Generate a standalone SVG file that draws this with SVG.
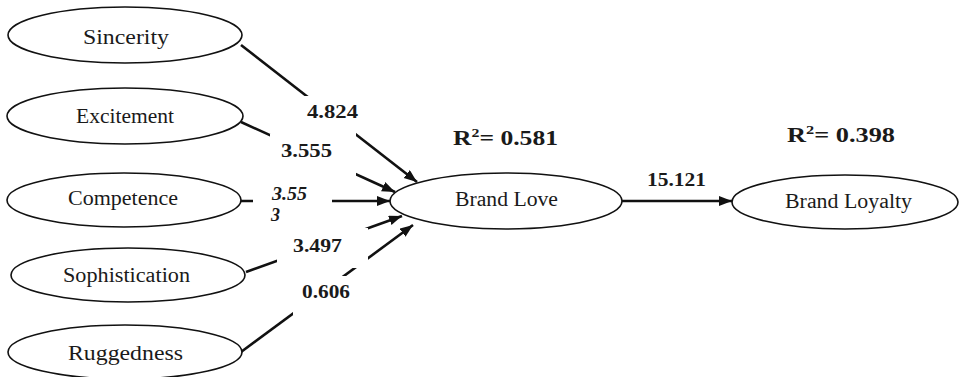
<svg xmlns="http://www.w3.org/2000/svg" width="959" height="377" viewBox="0 0 959 377">
<style>
.node ellipse{fill:#fff;stroke:#111;stroke-width:1.6}
.node text{font-family:"Liberation Serif","Times New Roman",serif;font-size:20px;fill:#1a1a1a}
.conn line{stroke:#111;stroke-width:2.6}
.bg{fill:#fff}
.lbl{font-family:"Liberation Serif","Times New Roman",serif;font-size:18px;font-weight:bold;fill:#1a1a1a}
.it{font-style:italic}
.r2{font-size:21px}
</style>
<defs>
<marker id="arr" markerUnits="userSpaceOnUse" markerWidth="14" markerHeight="11" refX="13" refY="5" orient="auto">
<path d="M0,0 L13,5 L0,10 z" fill="#111"/>
</marker>
</defs>
<rect width="959" height="377" fill="#fff"/>
<g id="connectors" class="conn">
<line x1="241" y1="45" x2="417" y2="182" marker-end="url(#arr)"/>
<line x1="241" y1="122" x2="395" y2="192" marker-end="url(#arr)"/>
<line x1="241" y1="201" x2="390" y2="201" marker-end="url(#arr)"/>
<line x1="246" y1="272" x2="402" y2="216" marker-end="url(#arr)"/>
<line x1="241" y1="352" x2="413" y2="225" marker-end="url(#arr)"/>
<line x1="622" y1="201" x2="732" y2="201" marker-end="url(#arr)"/>
</g>
<g id="labels">
<rect class="bg" x="300" y="96" width="56" height="39"/>
<rect class="bg" x="270" y="134" width="86" height="42"/>
<rect class="bg" x="253" y="180" width="79" height="44"/>
<rect class="bg" x="277" y="228" width="91" height="40"/>
<rect class="bg" x="293" y="276" width="60" height="39"/>
<text class="lbl" x="307" y="118" textLength="51" lengthAdjust="spacingAndGlyphs">4.824</text>
<text class="lbl" x="281" y="157" textLength="51" lengthAdjust="spacingAndGlyphs">3.555</text>
<text class="lbl it" x="272" y="200" textLength="35" lengthAdjust="spacingAndGlyphs">3.55</text>
<text class="lbl it" x="271" y="221">3</text>
<text class="lbl" x="293" y="252" textLength="49" lengthAdjust="spacingAndGlyphs">3.497</text>
<text class="lbl" x="302" y="298" textLength="48" lengthAdjust="spacingAndGlyphs">0.606</text>
<text class="lbl" x="647" y="186" textLength="59" lengthAdjust="spacingAndGlyphs">15.121</text>
<text class="lbl r2" x="453" y="145" textLength="105" lengthAdjust="spacingAndGlyphs">R<tspan font-size="13" dy="-8">2</tspan><tspan dy="8">= 0.581</tspan></text>
<text class="lbl r2" x="787" y="142" textLength="108" lengthAdjust="spacingAndGlyphs">R<tspan font-size="13" dy="-8">2</tspan><tspan dy="8">= 0.398</tspan></text>
</g>
<g id="sincerity" class="node"><ellipse cx="125" cy="35" rx="117" ry="28"/><text x="83" y="44" textLength="86" lengthAdjust="spacingAndGlyphs">Sincerity</text></g>
<g id="excitement" class="node"><ellipse cx="125" cy="116" rx="118" ry="28"/><text x="76" y="123" textLength="98" lengthAdjust="spacingAndGlyphs">Excitement</text></g>
<g id="competence" class="node"><ellipse cx="124" cy="200" rx="117" ry="27"/><text x="68" y="205" textLength="110" lengthAdjust="spacingAndGlyphs">Competence</text></g>
<g id="sophistication" class="node"><ellipse cx="128" cy="275" rx="117" ry="27"/><text x="63" y="282" textLength="127" lengthAdjust="spacingAndGlyphs">Sophistication</text></g>
<g id="ruggedness" class="node"><ellipse cx="125" cy="352" rx="117" ry="27"/><text x="68" y="360" textLength="115" lengthAdjust="spacingAndGlyphs">Ruggedness</text></g>
<g id="brand-love" class="node"><ellipse cx="506" cy="201" rx="116" ry="28"/><text x="455" y="206" textLength="103" lengthAdjust="spacingAndGlyphs">Brand Love</text></g>
<g id="brand-loyalty" class="node"><ellipse cx="845" cy="202" rx="113" ry="27"/><text x="785" y="208" textLength="127" lengthAdjust="spacingAndGlyphs">Brand Loyalty</text></g>
</svg>
